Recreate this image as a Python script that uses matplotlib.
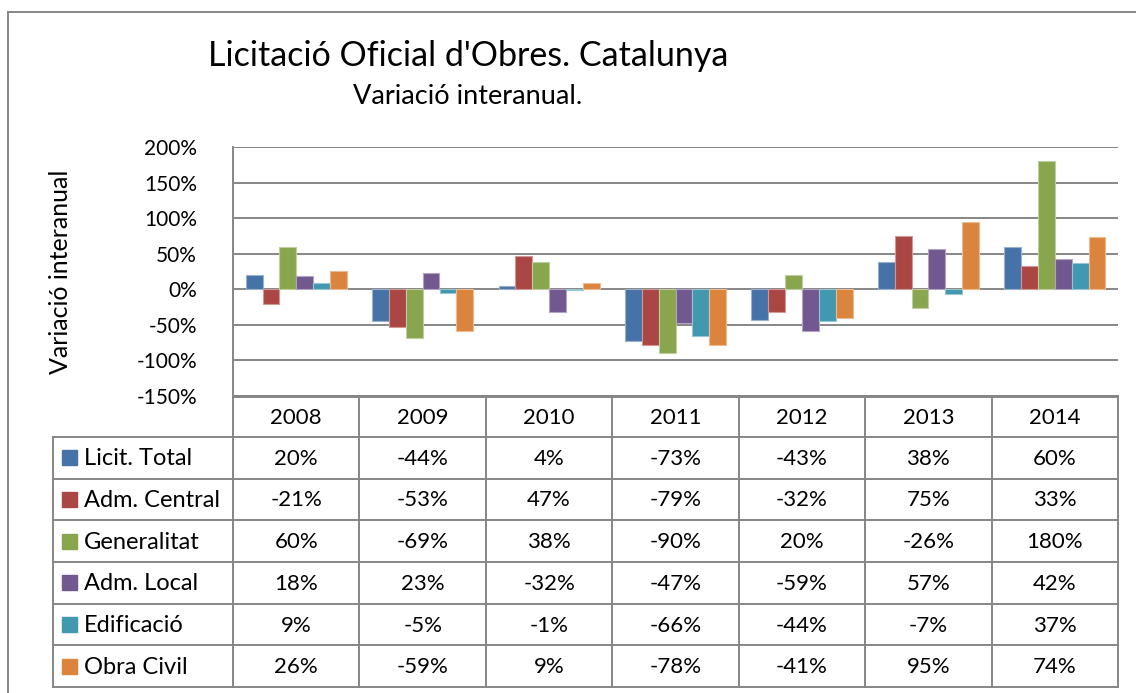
import numpy as np
import matplotlib
matplotlib.use("Agg")
import matplotlib.pyplot as plt
from matplotlib.lines import Line2D
from matplotlib.patches import Rectangle
import matplotlib.colors as mcolors

plt.rcParams['font.family'] = ['Lato', 'DejaVu Sans']

years = ['2008', '2009', '2010', '2011', '2012', '2013', '2014']
series_names = ['Licit. Total', 'Adm. Central', 'Generalitat', 'Adm. Local', 'Edificació', 'Obra Civil']
licit_total = [20, -44, 4, -73, -43, 38, 60]
adm_central = [-21, -53, 47, -79, -32, 75, 33]
generalitat = [60, -69, 38, -90, 20, -26, 180]
adm_local = [18, 23, -32, -47, -59, 57, 42]
edificacio = [9, -5, -1, -66, -44, -7, 37]
obra_civil = [26, -59, 9, -78, -41, 95, 74]
series_values = [licit_total, adm_central, generalitat, adm_local, edificacio, obra_civil]
colors = ['#4572A7', '#AA4643', '#89A54E', '#71588F', '#4198AF', '#DB843D']
yticks = [-150, -100, -50, 0, 50, 100, 150, 200]

W, H = 1136, 693
fig = plt.figure(figsize=(W / 100, H / 100), dpi=100)

# overlay axes in pixel coordinates
ov = fig.add_axes([0, 0, 1, 1])
ov.set_xlim(0, W)
ov.set_ylim(H, 0)
ov.axis('off')

grid_c = '#868686'
lw = 1.4

# outer frame (left and top visible)
ov.add_line(Line2D([8, 8], [12, H], color=grid_c, lw=lw))
ov.add_line(Line2D([8, W], [12, 12], color=grid_c, lw=lw))

# titles
ov.text(468, 56, "Licitació Oficial d'Obres. Catalunya", fontsize=24.5, ha='center', va='center')
ov.text(468, 97, "Variació interanual.", fontsize=19.5, ha='center', va='center')
ov.text(60, 272, "Variació interanual", fontsize=18, ha='center', va='center', rotation=90)

# plot axes
x0, x1, ytop, ybot = 233, 1118, 147, 396
ax = fig.add_axes([x0 / W, 1 - ybot / H, (x1 - x0) / W, (ybot - ytop) / H])
n = len(series_values)
w = 0.8 / n
x = np.arange(len(years))
for i, (vals, c) in enumerate(zip(series_values, colors)):
    edge = mcolors.to_rgb(c)
    edge = tuple(0.55 * e + 0.45 for e in edge)
    ax.bar(x + (i - (n - 1) / 2) * w, vals, width=w, color=c, edgecolor=edge, linewidth=0.8, zorder=3)
ax.set_xlim(-0.5, len(years) - 0.5)
ax.set_ylim(-150, 200)
ax.set_yticks(yticks)
ax.set_yticklabels([f"{t}%" for t in yticks], fontsize=15)
ax.tick_params(axis='y', length=0, pad=26)
ax.set_xticks([])
ax.yaxis.grid(True, color=grid_c, lw=lw, zorder=0)
ax.set_axisbelow(True)
for s in ['top', 'right']:
    ax.spines[s].set_visible(False)
ax.spines['left'].set_color(grid_c)
ax.spines['left'].set_linewidth(lw)
ax.spines['bottom'].set_color(grid_c)
ax.spines['bottom'].set_linewidth(lw)
ax.patch.set_alpha(0)

# data table
tleft = 53
col_w = (x1 - x0) / len(years)
hdr_top, hdr_bot = 397, 437
row_h = (687 - hdr_bot) / n
ov.add_line(Line2D([x0, x1], [hdr_top, hdr_top], color=grid_c, lw=lw))
ov.add_line(Line2D([tleft, x1], [hdr_bot, hdr_bot], color=grid_c, lw=lw))
for j in range(len(years) + 1):
    xx = x0 + j * col_w
    ov.add_line(Line2D([xx, xx], [ybot, 687], color=grid_c, lw=lw))
ov.add_line(Line2D([tleft, tleft], [hdr_bot, 687], color=grid_c, lw=lw))
for r in range(1, n + 1):
    yy = hdr_bot + r * row_h
    ov.add_line(Line2D([tleft, x1], [yy, yy], color=grid_c, lw=lw))
for j, yr in enumerate(years):
    ov.text(x0 + (j + 0.5) * col_w, (hdr_top + hdr_bot) / 2 + 1, yr, fontsize=16, ha='center', va='center')
for r, (name, vals, c) in enumerate(zip(series_names, series_values, colors)):
    yc = hdr_bot + (r + 0.5) * row_h
    ov.add_patch(Rectangle((62, yc - 7.5), 15, 15, color=c))
    ov.text(84, yc + 1, name, fontsize=17, ha='left', va='center')
    for j, v in enumerate(vals):
        ov.text(x0 + (j + 0.5) * col_w, yc + 1, f"{v}%", fontsize=16, ha='center', va='center')

fig.savefig('out.png', dpi=100)
